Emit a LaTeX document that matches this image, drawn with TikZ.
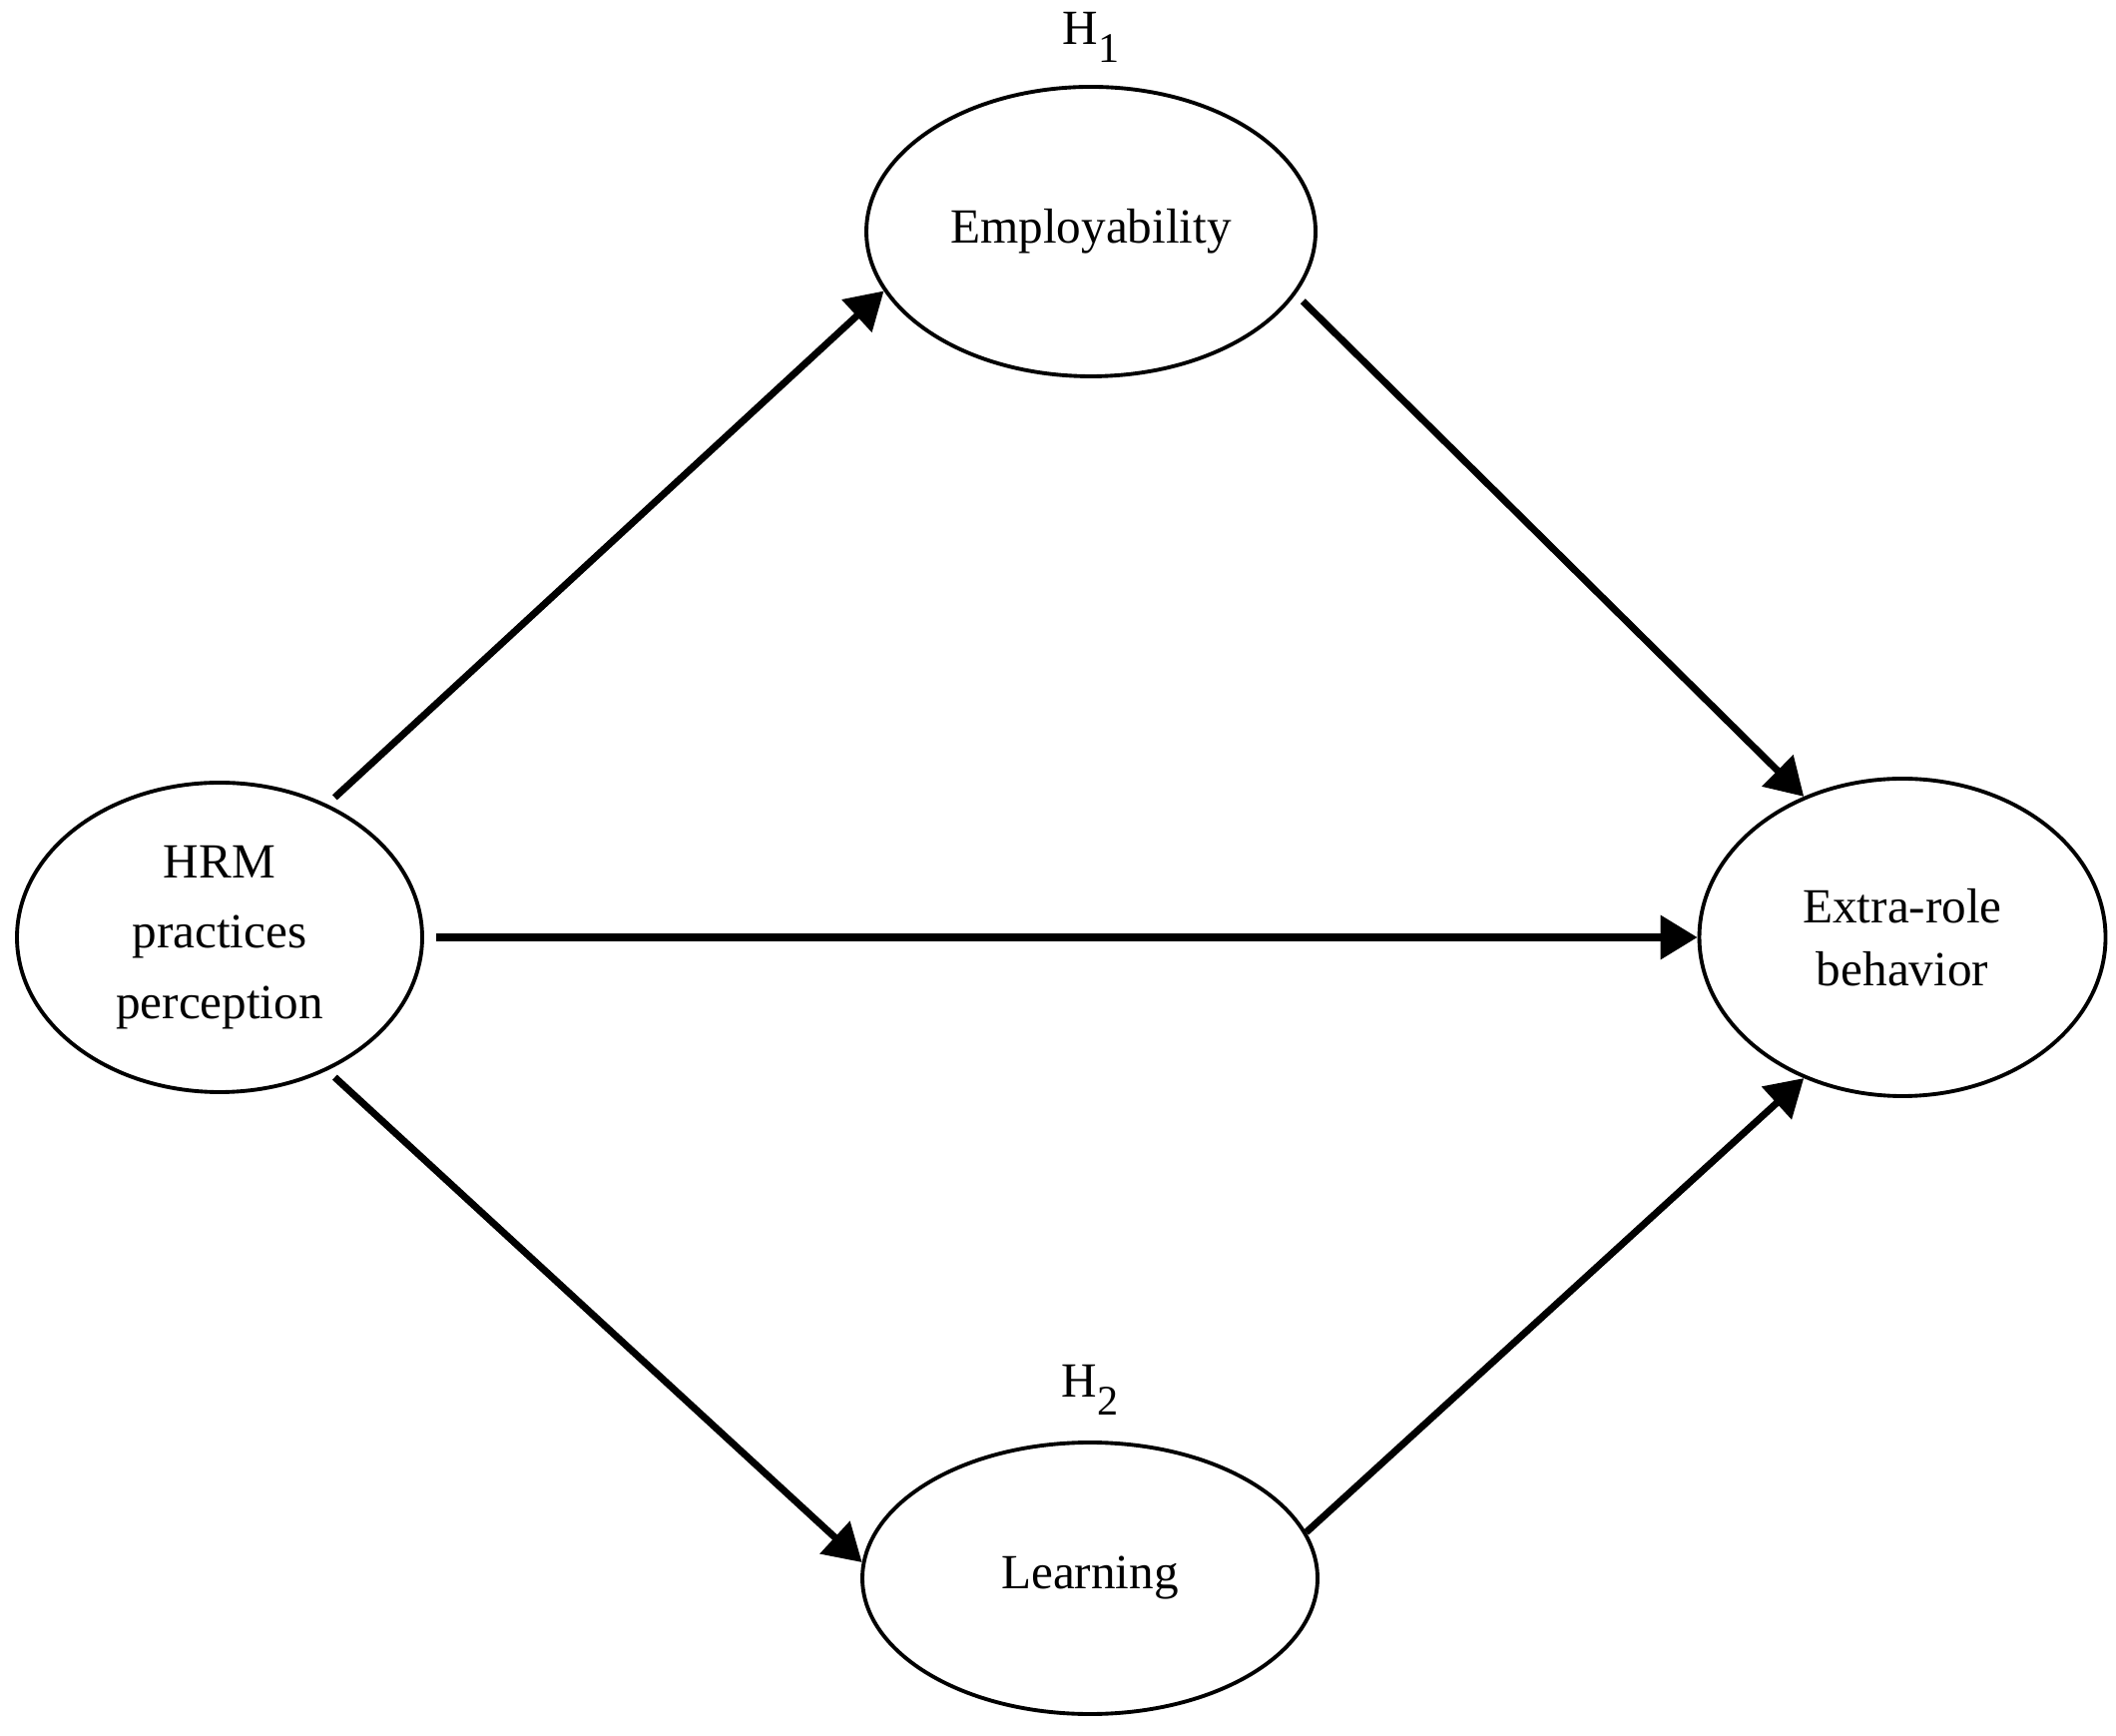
\documentclass[tikz,border=0pt]{standalone}
\usepackage{fontspec}
\setmainfont{Liberation Serif}
\usetikzlibrary{positioning,arrows.meta,shapes.geometric}
\newcommand{\hyp}[1]{H\raisebox{-5pt}{\fontsize{12}{12}\selectfont #1}}

\begin{document}
\begin{tikzpicture}[
  construct/.style={ellipse, draw=black, line width=1.1pt, inner sep=0pt, align=center, font=\fontsize{14}{18}\selectfont},
  link/.style={-{Triangle[length=0.37cm,width=0.43cm]}, line width=2pt},
  hlabel/.style={inner sep=0pt, font=\fontsize{14}{16}\selectfont}
]
\useasboundingbox (0,0) rectangle (21.2,17.38);
\node[construct, minimum width=4.06cm, minimum height=3.1cm, font=\fontsize{14}{20}\selectfont] (hrm) at (2.2,7.99) {HRM\\practices\\perception};
\node[construct, minimum width=4.5cm, minimum height=2.9cm] (emp) at (10.93,15.06) {Employability};
\node[construct, minimum width=4.56cm, minimum height=2.72cm] (lrn) at (10.92,1.57) {Learning};
\node[construct, minimum width=4.07cm, minimum height=3.18cm] (ext) at (19.06,7.99) {Extra-role\\behavior};
\node[hlabel, above=0.22cm of emp] (h1) {\hyp{1}};
\node[hlabel, above=0.25cm of lrn] (h2) {\hyp{2}};
\draw[link, shorten <=0.1cm] (hrm.51) -- (emp.196);
\draw[link, shorten <=0.1cm] (emp.343) -- (ext.125);
\draw[link, shorten <=0.12cm] (hrm.east) -- (ext.west);
\draw[link, shorten <=0.1cm] (hrm.309) -- (lrn.176);
\draw[link] (lrn.12) -- (ext.235);
\end{tikzpicture}
\end{document}
